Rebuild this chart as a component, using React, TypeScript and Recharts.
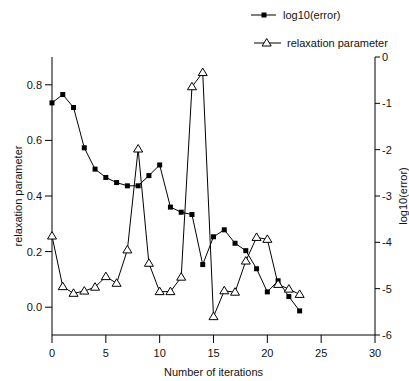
import React from 'react';
import { LineChart, Line, XAxis, YAxis } from 'recharts';

const iterations = [0, 1, 2, 3, 4, 5, 6, 7, 8, 9, 10, 11, 12, 13, 14, 15, 16, 17, 18, 19, 20, 21, 22, 23];
const log10Error = [-0.99, -0.81, -1.09, -1.96, -2.42, -2.6, -2.71, -2.78, -2.78, -2.56, -2.33, -3.24, -3.35, -3.4, -4.48, -3.88, -3.73, -4.02, -4.18, -4.57, -5.07, -4.83, -5.17, -5.48];
const relaxation = [0.256, 0.074, 0.05, 0.058, 0.072, 0.11, 0.086, 0.206, 0.569, 0.158, 0.056, 0.056, 0.108, 0.793, 0.844, -0.034, 0.059, 0.054, 0.166, 0.251, 0.244, 0.082, 0.065, 0.046];

const xTicks = [0, 5, 10, 15, 20, 25, 30];
const leftTicks = [0, 0.2, 0.4, 0.6, 0.8];
const rightTicks = [-6, -5, -4, -3, -2, -1, 0];
const seriesNames = ['log10(error)', 'relaxation parameter'];
const xLabel = 'Number of iterations';
const leftLabel = 'relaxation parameter';
const rightLabel = 'log10(error)';

const data = iterations.map((it, i) => ({ iter: it, err: log10Error[i], relax: relaxation[i] }));

const FONT = '"Liberation Sans", Arial, sans-serif';
const tickStyle = { fontSize: 11, fill: '#111', fontFamily: FONT };

const SquareDot = (props: any) => {
  const { cx, cy } = props;
  if (cx == null || cy == null) return null;
  return <rect x={cx - 2.5} y={cy - 2.5} width={5} height={5} fill="#000" />;
};

const TriDot = (props: any) => {
  const { cx, cy } = props;
  if (cx == null || cy == null) return null;
  const pts = `${cx},${cy - 4.5} ${cx - 4.5},${cy + 3} ${cx + 4.5},${cy + 3}`;
  return <polygon points={pts} fill="#fff" stroke="#000" strokeWidth={1} />;
};

const LeftLabel = (props: any) => {
  const vb = props.viewBox || {};
  const x = (vb.x ?? 0) + 18;
  const y = (vb.y ?? 0) + (vb.height ?? 0) / 2;
  return (
    <text x={x} y={y} transform={`rotate(-90 ${x} ${y})`} textAnchor="middle" dominantBaseline="central"
      style={{ fontSize: 11, fontFamily: FONT, fill: '#111' }}>{leftLabel}</text>
  );
};

const RightLabel = (props: any) => {
  const vb = props.viewBox || {};
  const x = (vb.x ?? 0) + 28;
  const y = (vb.y ?? 0) + (vb.height ?? 0) / 2;
  return (
    <text x={x} y={y} transform={`rotate(-90 ${x} ${y})`} textAnchor="middle" dominantBaseline="central"
      style={{ fontSize: 11, fontFamily: FONT, fill: '#111' }}>{rightLabel}</text>
  );
};

const BottomLabel = (props: any) => {
  const vb = props.viewBox || {};
  const x = (vb.x ?? 0) + (vb.width ?? 0) / 2;
  const y = (vb.y ?? 0) + 37;
  return (
    <text x={x} y={y} textAnchor="middle" dominantBaseline="central"
      style={{ fontSize: 11, fontFamily: FONT, fill: '#111' }}>{xLabel}</text>
  );
};

const LegendOverlay = () => (
  <svg width={409} height={60} style={{ position: 'absolute', left: 0, top: 0, pointerEvents: 'none' }}>
    <g>
      <line x1={251} y1={15} x2={276} y2={15} stroke="#000" strokeWidth={1} />
      <rect x={261.5} y={12.5} width={5} height={5} fill="#000" />
      <text x={283} y={15} dominantBaseline="central" style={{ fontSize: 11, fontFamily: FONT, fill: '#111' }}>{seriesNames[0]}</text>
    </g>
    <g>
      <line x1={254} y1={43} x2={281} y2={43} stroke="#000" strokeWidth={1} />
      <polygon points={`266.7,38.5 262.2,46 271.2,46`} fill="#fff" stroke="#000" strokeWidth={1} />
      <text x={287} y={43} dominantBaseline="central" style={{ fontSize: 11, fontFamily: FONT, fill: '#111' }}>{seriesNames[1]}</text>
    </g>
  </svg>
);

export default function App() {
  return (
    <div style={{ position: 'absolute', left: 0, top: 0, width: 409, height: 381, background: '#fff', fontFamily: FONT }}>
      <LineChart width={409} height={381} data={data} margin={{ top: 57, right: 0, bottom: 0, left: 0 }}>
        <XAxis dataKey="iter" type="number" domain={[0, 30]} ticks={xTicks} height={46}
          tick={tickStyle} tickSize={8} tickMargin={6} stroke="#000" axisLine={{ stroke: '#000' }}
          tickLine={{ stroke: '#000' }} label={<BottomLabel />} />
        <YAxis yAxisId="left" orientation="left" domain={[-0.1, 0.9]} ticks={leftTicks} width={52}
          tickFormatter={(v: number) => v.toFixed(1)} tick={tickStyle} tickSize={7} tickMargin={3}
          axisLine={{ stroke: '#000' }} tickLine={{ stroke: '#000' }} label={<LeftLabel />} />
        <YAxis yAxisId="right" orientation="right" domain={[-6, 0]} ticks={rightTicks} width={34}
          tick={tickStyle} tickSize={5} tickMargin={2} axisLine={{ stroke: '#000' }} tickLine={{ stroke: '#000' }}
          label={<RightLabel />} />
        <Line yAxisId="right" dataKey="err" name={seriesNames[0]} stroke="#000" strokeWidth={1}
          dot={<SquareDot />} activeDot={false} isAnimationActive={false} type="linear" />
        <Line yAxisId="left" dataKey="relax" name={seriesNames[1]} stroke="#000" strokeWidth={1}
          dot={<TriDot />} activeDot={false} isAnimationActive={false} type="linear" />
      </LineChart>
      <LegendOverlay />
    </div>
  );
}
